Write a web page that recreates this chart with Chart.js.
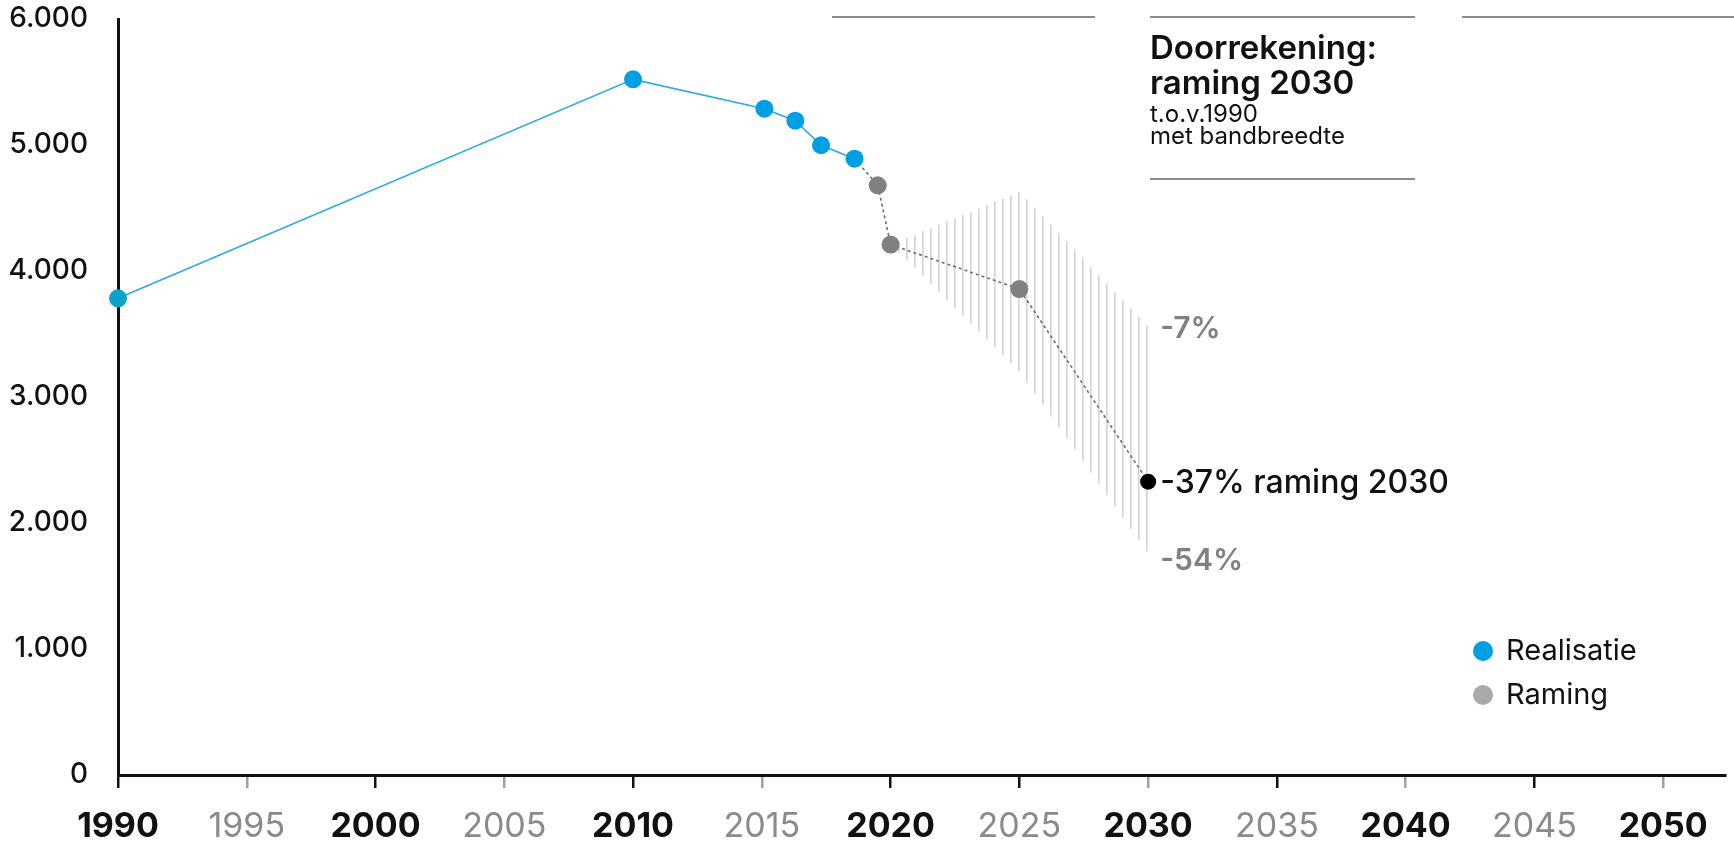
<!DOCTYPE html>
<html lang="nl">
<head>
    <meta charset="UTF-8">
    <title>Doorrekening: raming 2030</title>
    <script src="https://cdn.jsdelivr.net/npm/chart.js"></script>
    <style>
        body {
            margin: 0;
            padding: 0;
            background: #fff;
        }
        #wrap {
            width: 1734px;
            height: 846px;
        }
    </style>
</head>
<body>

    <div id="wrap">
        <canvas id="raming" width="1734" height="846"></canvas>
    </div>

    <script>
        // Realisatie (measured)
        const realYears = [1990, 2010, 2015.1, 2016.3, 2017.3, 2018.6];
        const realValues = [3783, 5521, 5288, 5193, 4998, 4891];

        // Raming, starts at last realised point
        const ramingYears = [2018.6, 2019.5, 2020, 2025, 2030];
        const ramingValues = [4891, 4680, 4210, 3857, 2328];

        // bandbreedte
        const bandYears = [2020, 2025, 2030];
        const bandUpper = [4210, 4629, 3558];
        const bandLower = [4210, 3201, 1760];

        const bandLabels = ['-7%', '-54%'];
        const mainLabel = '-37% raming 2030';

        const xTicks = [1990, 1995, 2000, 2005, 2010, 2015, 2020, 2025, 2030, 2035, 2040, 2045, 2050];
        const yTicks = [0, 1000, 2000, 3000, 4000, 5000, 6000];
        const yTickLabels = ['0', '1.000', '2.000', '3.000', '4.000', '5.000', '6.000'];
        // tick marks under the axis that are drawn dark
        const darkMarks = [1990, 2000, 2010, 2020, 2025, 2035, 2045];

        const legendItems = [
            { label: 'Realisatie', color: '#009fe3' },
            { label: 'Raming', color: '#aaaaaa' }
        ];

        const FONT = 'Inter, Lato, "Noto Sans", sans-serif';

        // vertical stripe pattern for the band
        const pc = document.createElement('canvas');
        pc.width = 8;
        pc.height = 4;
        const pctx = pc.getContext('2d');
        pctx.fillStyle = '#d4d4d4';
        pctx.fillRect(2, 0, 1.6, 4);
        const stripes = document.getElementById('raming').getContext('2d').createPattern(pc, 'repeat');

        function pts(xs, ys) {
            return xs.map((x, i) => ({ x: x, y: ys[i] }));
        }

        // text, labels and legend on top of the chart
        const annotations = {
            id: 'annotations',
            afterDatasetsDraw(chart) {
                const c = chart.ctx;
                const xs = chart.scales.x;
                const ys = chart.scales.y;
                c.save();

                // end labels of the band and the estimate
                const x30 = xs.getPixelForValue(bandYears[2]) + 12;
                c.textAlign = 'left';
                c.textBaseline = 'middle';
                c.fillStyle = '#808080';
                c.font = '600 30px ' + FONT;
                c.fillText(bandLabels[0], x30, ys.getPixelForValue(bandUpper[2]) + 2);
                c.fillText(bandLabels[1], x30, ys.getPixelForValue(bandLower[2]) + 8);
                c.fillStyle = '#111';
                c.font = '500 32px ' + FONT;
                c.fillText(mainLabel, x30, ys.getPixelForValue(ramingValues[ramingValues.length - 1]) + 2);

                // header block
                c.strokeStyle = '#8c8c8c';
                c.lineWidth = 2;
                [[832, 1095], [1150, 1415], [1462, 1734]].forEach(function (s) {
                    c.beginPath();
                    c.moveTo(s[0], 17);
                    c.lineTo(s[1], 17);
                    c.stroke();
                });
                c.beginPath();
                c.moveTo(1150, 179);
                c.lineTo(1415, 179);
                c.stroke();

                c.textBaseline = 'alphabetic';
                c.fillStyle = '#111';
                c.font = '600 33px ' + FONT;
                c.fillText('Doorrekening:', 1150, 59);
                c.fillText('raming 2030', 1150, 94);
                c.font = '24px ' + FONT;
                c.fillText('t.o.v.1990', 1150, 122);
                c.fillText('met bandbreedte', 1150, 144);

                // legend
                c.textBaseline = 'middle';
                c.font = '29px ' + FONT;
                legendItems.forEach(function (item, i) {
                    const y = 651 + i * 44;
                    c.fillStyle = item.color;
                    c.beginPath();
                    c.arc(1483, y, 10, 0, Math.PI * 2);
                    c.fill();
                    c.fillStyle = '#111';
                    c.fillText(item.label, 1506, y);
                });
                c.restore();
            }
        };

        const chart = new Chart(document.getElementById('raming'), {
            type: 'scatter',
            data: {
                datasets: [
                    {
                        label: 'band boven',
                        data: pts(bandYears, bandUpper),
                        showLine: true,
                        borderWidth: 0,
                        pointRadius: 0,
                        backgroundColor: stripes,
                        fill: '+1',
                        order: 10
                    },
                    {
                        label: 'band onder',
                        data: pts(bandYears, bandLower),
                        showLine: true,
                        borderWidth: 0,
                        pointRadius: 0,
                        fill: false,
                        order: 10
                    },
                    {
                        label: 'Raming',
                        data: pts(ramingYears, ramingValues),
                        showLine: true,
                        borderColor: '#6e6e6e',
                        borderWidth: 1.6,
                        borderDash: [3, 3],
                        pointRadius: [0, 9, 9, 9, 8],
                        pointBorderWidth: 0,
                        pointBackgroundColor: ['#808080', '#808080', '#808080', '#808080', '#000'],
                        clip: false,
                        order: 2
                    },
                    {
                        label: 'Realisatie',
                        data: pts(realYears, realValues),
                        showLine: true,
                        borderColor: '#2eaae4',
                        borderWidth: 1.6,
                        pointRadius: 9,
                        pointBorderWidth: 0,
                        pointBackgroundColor: ['#0aa2c8', '#009fe3', '#009fe3', '#009fe3', '#009fe3', '#009fe3'],
                        clip: false,
                        order: 1
                    }
                ]
            },
            options: {
                responsive: false,
                animation: false,
                layout: { padding: { top: 19, right: 9, left: 0, bottom: 0 } },
                plugins: {
                    legend: { display: false },
                    tooltip: { enabled: false }
                },
                scales: {
                    x: {
                        type: 'linear',
                        min: 1990,
                        max: 2052.4,
                        afterBuildTicks: (s) => { s.ticks = xTicks.map(v => ({ value: v })); },
                        afterFit: (s) => { s.height = 71; },
                        border: { display: true, color: '#111', width: 3 },
                        grid: {
                            drawOnChartArea: false,
                            drawTicks: true,
                            tickLength: 13,
                            lineWidth: 2.5,
                            color: (ctx) => darkMarks.includes(ctx.tick && ctx.tick.value) ? '#111' : '#a0a0a0'
                        },
                        ticks: {
                            padding: 18,
                            maxRotation: 0,
                            autoSkip: false,
                            callback: (v) => String(v),
                            color: (ctx) => ctx.tick.value % 10 === 0 ? '#111' : '#8a8a8a',
                            font: (ctx) => ({
                                family: FONT,
                                size: 34,
                                weight: ctx.tick && ctx.tick.value % 10 === 0 ? '700' : '400'
                            })
                        }
                    },
                    y: {
                        min: 0,
                        max: 6000,
                        afterBuildTicks: (s) => { s.ticks = yTicks.map(v => ({ value: v })); },
                        afterFit: (s) => {
                            s.width = 118;
                            s.paddingTop = 0;
                            s.paddingBottom = 0;
                        },
                        border: { display: true, color: '#111', width: 3 },
                        grid: { display: false, drawTicks: false },
                        ticks: {
                            padding: 30,
                            color: '#111',
                            font: { family: FONT, size: 28, weight: '500' },
                            callback: (v) => yTickLabels[yTicks.indexOf(v)]
                        }
                    }
                }
            },
            plugins: [annotations]
        });
    </script>

</body>
</html>
